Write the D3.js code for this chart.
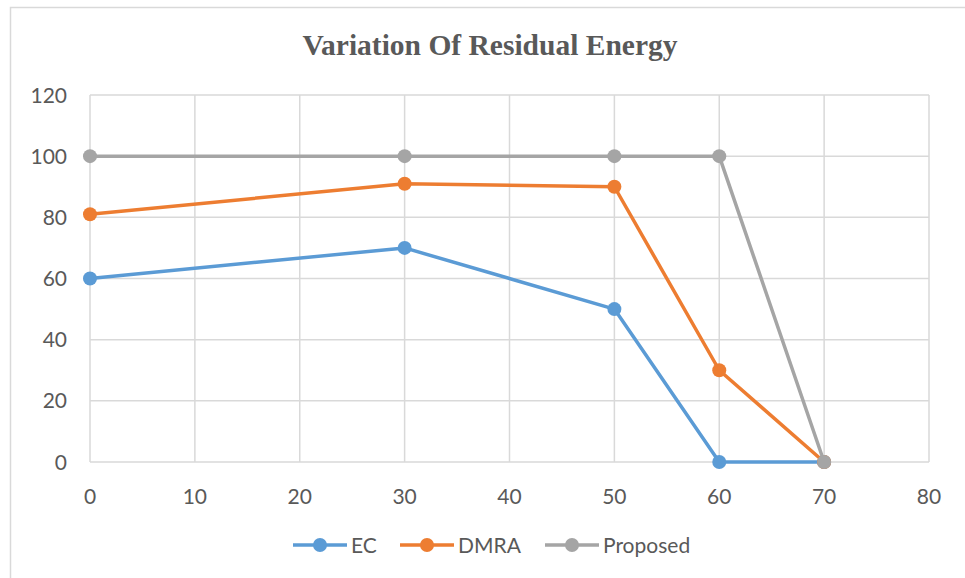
<!DOCTYPE html>
<html>
<head>
<meta charset="utf-8">
<script src="https://cdn.jsdelivr.net/npm/d3@7"></script>
<style>
  body { margin: 0; background: #fff; }
  svg { display: block; }
</style>
</head>
<body>
<svg id="chart" width="965" height="578"></svg>
<script>
var xValues = [0, 30, 50, 60, 70];
var ecValues = [60, 70, 50, 0, 0];
var dmraValues = [81, 91, 90, 30, 0];
var proposedValues = [100, 100, 100, 100, 0];
var seriesNames = ['EC', 'DMRA', 'Proposed'];
var seriesColors = ['#5B9BD5', '#ED7D31', '#A5A5A5'];
var xTicks = [0, 10, 20, 30, 40, 50, 60, 70, 80];
var yTicks = [0, 20, 40, 60, 80, 100, 120];

var svg = d3.select('#chart');
var font = 'Lato, "Open Sans", sans-serif';

// chart frame (right/bottom edges run past the picture)
svg.append('rect')
  .attr('x', 10.5).attr('y', 7.5)
  .attr('width', 1000).attr('height', 1000)
  .attr('fill', 'none').attr('stroke', '#d9d9d9').attr('stroke-width', 1.5);

var x = d3.scaleLinear().domain([0, 80]).range([90, 929]);
var y = d3.scaleLinear().domain([0, 120]).range([462, 95]);

// grid
svg.append('g').selectAll('line.v').data(xTicks).join('line')
  .attr('x1', function(d) { return x(d); }).attr('x2', function(d) { return x(d); })
  .attr('y1', y(0)).attr('y2', y(120))
  .attr('stroke', '#d9d9d9').attr('stroke-width', 1.5);
svg.append('g').selectAll('line.h').data(yTicks).join('line')
  .attr('x1', x(0)).attr('x2', x(80))
  .attr('y1', function(d) { return y(d); }).attr('y2', function(d) { return y(d); })
  .attr('stroke', '#d9d9d9').attr('stroke-width', 1.5);

// axis labels
svg.append('g').selectAll('text').data(yTicks).join('text')
  .attr('x', 67).attr('y', function(d) { return y(d) + 7.5; })
  .attr('text-anchor', 'end')
  .attr('font-family', font).attr('font-size', 21).attr('fill', '#595959')
  .text(function(d) { return d; });
svg.append('g').selectAll('text').data(xTicks).join('text')
  .attr('x', function(d) { return x(d); }).attr('y', 504)
  .attr('text-anchor', 'middle')
  .attr('font-family', font).attr('font-size', 21).attr('fill', '#595959')
  .text(function(d) { return d; });

// title
svg.append('text')
  .attr('x', 490).attr('y', 55)
  .attr('text-anchor', 'middle')
  .attr('font-family', '"Liberation Serif", "DejaVu Serif", serif')
  .attr('font-weight', 'bold').attr('font-size', 29.5).attr('fill', '#595959')
  .text('Variation Of Residual Energy');

var allSeries = [ecValues, dmraValues, proposedValues];
var line = d3.line()
  .x(function(d, i) { return x(xValues[i]); })
  .y(function(d) { return y(d); });

allSeries.forEach(function(vals, s) {
  var g = svg.append('g');
  g.append('path')
    .attr('d', line(vals))
    .attr('fill', 'none')
    .attr('stroke', seriesColors[s]).attr('stroke-width', 3.5)
    .attr('stroke-linejoin', 'round');
  g.selectAll('circle').data(vals).join('circle')
    .attr('cx', function(d, i) { return x(xValues[i]); })
    .attr('cy', function(d) { return y(d); })
    .attr('r', 7)
    .attr('fill', seriesColors[s]);
});

// legend
var legendX = [293, 400, 545];
seriesNames.forEach(function(name, s) {
  var lx = legendX[s];
  var g = svg.append('g');
  g.append('line')
    .attr('x1', lx).attr('x2', lx + 54)
    .attr('y1', 545).attr('y2', 545)
    .attr('stroke', seriesColors[s]).attr('stroke-width', 3.5);
  g.append('circle')
    .attr('cx', lx + 27).attr('cy', 545).attr('r', 7)
    .attr('fill', seriesColors[s]);
  g.append('text')
    .attr('x', lx + 58).attr('y', 552.5)
    .attr('font-family', font).attr('font-size', 21).attr('fill', '#595959')
    .text(name);
});
</script>
</body>
</html>
